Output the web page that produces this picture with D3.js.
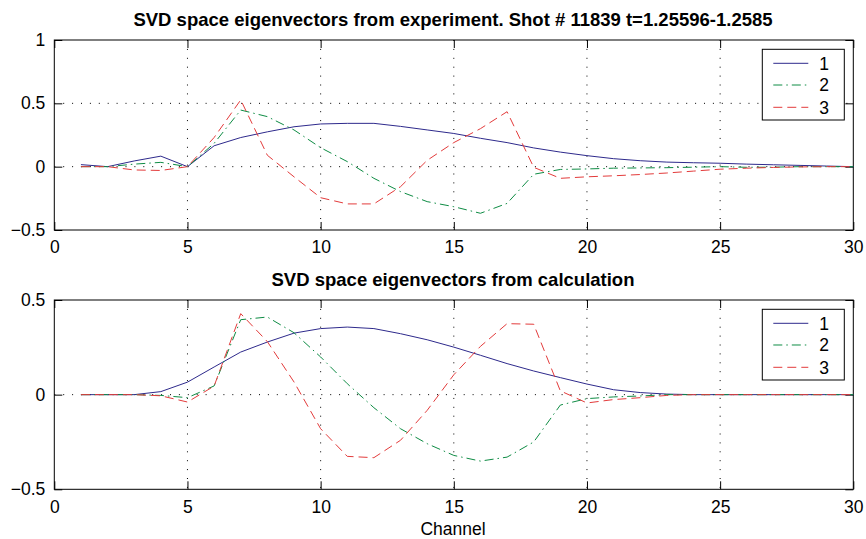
<!DOCTYPE html>
<html>
<head>
<meta charset="utf-8">
<script src="https://cdn.jsdelivr.net/npm/d3@7"></script>
<style>
  html, body { margin: 0; padding: 0; background: #fff; }
  svg { display: block; font-family: "Liberation Sans", Arial, Helvetica, sans-serif; }
</style>
</head>
<body>
<div id="main"></div>
<script>
// channel numbers
const channels = [1, 2, 3, 4, 5, 6, 7, 8, 9, 10, 11, 12, 13, 14, 15, 16, 17, 18, 19, 20, 21, 22, 23, 24, 25, 26, 27, 28, 29, 30];

// experiment eigenvectors (top panel)
const expV1 = [0.016, 0.0, 0.045, 0.083, 0.0, 0.165, 0.23, 0.275, 0.315, 0.337, 0.342, 0.342, 0.318, 0.29, 0.262, 0.224, 0.19, 0.148, 0.115, 0.087, 0.063, 0.047, 0.036, 0.031, 0.027, 0.02, 0.015, 0.01, 0.005, 0.0];
const expV2 = [0.0, 0.0, 0.02, 0.034, 0.0, 0.184, 0.447, 0.395, 0.29, 0.15, 0.04, -0.092, -0.197, -0.276, -0.316, -0.368, -0.29, -0.06, -0.022, -0.018, -0.012, -0.01, -0.008, -0.004, 0.0, -0.005, -0.004, 0.0, 0.0, 0.0];
const expV3 = [0.0, 0.0, -0.026, -0.03, 0.0, 0.23, 0.527, 0.09, -0.08, -0.245, -0.294, -0.294, -0.158, 0.05, 0.19, 0.3, 0.434, -0.005, -0.092, -0.08, -0.072, -0.062, -0.05, -0.035, -0.02, -0.012, -0.006, -0.002, 0.0, 0.0];

// calculated eigenvectors (bottom panel)
const calcV1 = [0, 0, 0, 0.016, 0.066, 0.146, 0.225, 0.278, 0.325, 0.349, 0.357, 0.349, 0.322, 0.29, 0.251, 0.208, 0.164, 0.125, 0.09, 0.056, 0.026, 0.011, 0.003, 0, 0, 0, 0, 0, 0, 0];
const calcV2 = [0, 0, 0, -0.004, -0.016, 0.046, 0.396, 0.41, 0.327, 0.199, 0.058, -0.069, -0.18, -0.259, -0.321, -0.351, -0.33, -0.25, -0.055, -0.021, -0.012, -0.007, 0, 0, 0, 0, 0, 0, 0, 0];
const calcV3 = [0, 0, 0, -0.006, -0.039, 0.045, 0.428, 0.28, 0.067, -0.18, -0.326, -0.333, -0.241, -0.083, 0.105, 0.255, 0.375, 0.372, 0.02, -0.044, -0.026, -0.016, -0.004, 0, 0, 0, 0, 0, 0, 0];

const xTicks = [0, 5, 10, 15, 20, 25, 30];
const yTicksTop = [-0.5, 0, 0.5, 1];
const yTicksBottom = [-0.5, 0, 0.5];
const legendLabels = ["1", "2", "3"];
const titleTop = "SVD space eigenvectors from experiment. Shot # 11839 t=1.25596-1.2585";
const titleBottom = "SVD space eigenvectors from calculation";
const xLabel = "Channel";

// styles
const colors = ["#2e2a8c", "#0e8c44", "#e33b3b"];
const dashes = [null, "9,4,1.5,4", "9,5"];
const fontSize = 17.5;

const width = 866, height = 539;
const left = 54.3, right = 853.3;

const svg = d3.select("#main").append("svg")
  .attr("width", width)
  .attr("height", height);

const x = d3.scaleLinear().domain([0, 30]).range([left, right]);

function panel(top, bottom, yDomain, yTicks, series, title, legendTop) {
  const y = d3.scaleLinear().domain(yDomain).range([bottom, top]);
  const g = svg.append("g");

  // grid
  g.append("g").selectAll("line")
    .data(xTicks.filter(d => d > 0 && d < 30))
    .enter().append("line")
    .attr("x1", d => x(d)).attr("x2", d => x(d))
    .attr("y1", top).attr("y2", bottom)
    .attr("stroke", "#000").attr("stroke-width", 1)
    .attr("stroke-dasharray", "1,7.9");
  g.append("g").selectAll("line")
    .data(yTicks.filter(d => d > yDomain[0] && d < yDomain[1]))
    .enter().append("line")
    .attr("x1", left).attr("x2", right)
    .attr("y1", d => y(d)).attr("y2", d => y(d))
    .attr("stroke", "#000").attr("stroke-width", 1)
    .attr("stroke-dasharray", "1,7.9");

  // axes, ticks pointing inward
  const axB = g.append("g").attr("transform", `translate(0,${bottom})`)
    .call(d3.axisBottom(x).tickValues(xTicks).tickSizeInner(-8).tickSizeOuter(0).tickPadding(11));
  const axT = g.append("g").attr("transform", `translate(0,${top})`)
    .call(d3.axisTop(x).tickValues(xTicks).tickSizeInner(-8).tickSizeOuter(0).tickFormat(""));
  const axL = g.append("g").attr("transform", `translate(${left},0)`)
    .call(d3.axisLeft(y).tickValues(yTicks).tickSizeInner(-8).tickSizeOuter(0).tickPadding(9).tickFormat(d3.format("")));
  const axR = g.append("g").attr("transform", `translate(${right},0)`)
    .call(d3.axisRight(y).tickValues(yTicks).tickSizeInner(-8).tickSizeOuter(0).tickFormat(""));
  [axB, axT, axL, axR].forEach(a => {
    a.select(".domain").remove();
    a.selectAll("line").attr("stroke", "#000");
    a.selectAll("text").attr("font-size", fontSize).attr("fill", "#000")
      .attr("font-family", "'Liberation Sans', Arial, Helvetica, sans-serif");
  });

  // box
  g.append("rect")
    .attr("x", left).attr("y", top)
    .attr("width", right - left).attr("height", bottom - top)
    .attr("fill", "none").attr("stroke", "#000").attr("stroke-width", 1);

  // series lines
  const line = d3.line().x((d, i) => x(channels[i])).y(d => y(d));
  series.forEach((s, k) => {
    g.append("path")
      .attr("d", line(s))
      .attr("fill", "none")
      .attr("stroke", colors[k])
      .attr("stroke-width", 1)
      .attr("stroke-dasharray", dashes[k]);
  });

  // title
  svg.append("text")
    .attr("x", 453).attr("y", top - 14)
    .attr("text-anchor", "middle")
    .attr("font-size", 18.5).attr("font-weight", "bold")
    .text(title);

  // legend
  const lx = 762.3, lw = 82, lh = 70.7;
  const lg = g.append("g").attr("transform", `translate(${lx},${legendTop})`);
  lg.append("rect").attr("width", lw).attr("height", lh)
    .attr("fill", "#fff").attr("stroke", "#000").attr("stroke-width", 1);
  const rows = [14, 35.7, 58];
  legendLabels.forEach((lab, k) => {
    lg.append("line")
      .attr("x1", 11).attr("x2", 46)
      .attr("y1", rows[k]).attr("y2", rows[k])
      .attr("stroke", colors[k]).attr("stroke-width", 1)
      .attr("stroke-dasharray", dashes[k]);
    lg.append("text")
      .attr("x", 57).attr("y", rows[k]).attr("dy", "0.36em")
      .attr("font-size", fontSize)
      .text(lab);
  });
}

panel(40, 230, [-0.5, 1], yTicksTop, [expV1, expV2, expV3], titleTop, 49.3);
panel(300, 489.3, [-0.5, 0.5], yTicksBottom, [calcV1, calcV2, calcV3], titleBottom, 309.3);

svg.append("text")
  .attr("x", 453).attr("y", 535)
  .attr("text-anchor", "middle")
  .attr("font-size", fontSize)
  .text(xLabel);
</script>
</body>
</html>
